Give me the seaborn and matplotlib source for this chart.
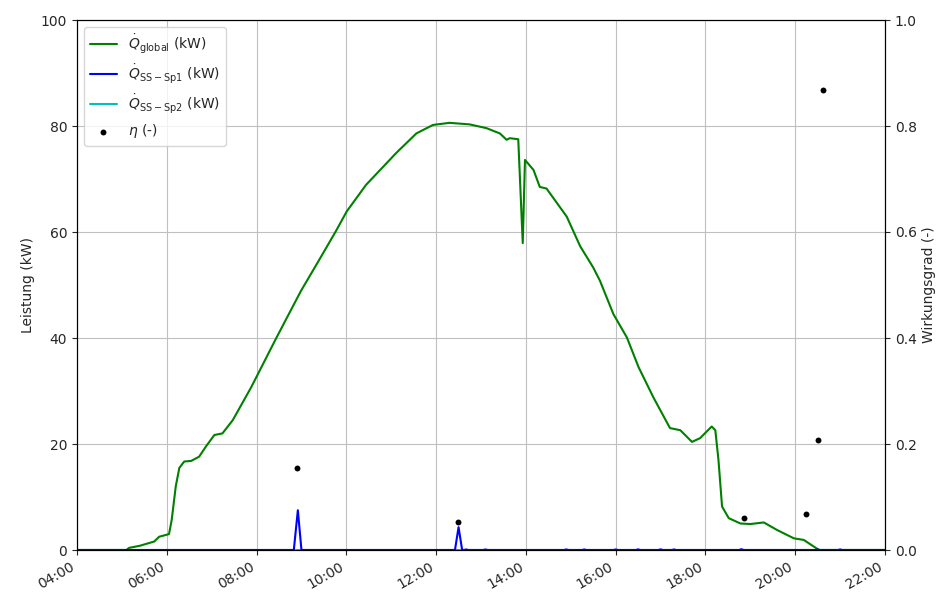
import numpy as np
import pandas as pd
import matplotlib
matplotlib.use("Agg")
import matplotlib.pyplot as plt
import matplotlib.dates as mdates
import seaborn as sns

# ---- data (hours of day, values) ----
glob_h = [4.0, 5.1, 5.16, 5.4, 5.72, 5.83, 6.05, 6.11, 6.2, 6.28, 6.39, 6.54, 6.72, 6.87,
          7.06, 7.24, 7.47, 7.88, 8.44, 8.99, 9.40, 9.77, 10.01, 10.44, 11.11, 11.56,
          11.93, 12.30, 12.75, 13.12, 13.42, 13.57, 13.64, 13.83, 13.93, 13.98, 14.17,
          14.31, 14.46, 14.91, 15.21, 15.50, 15.65, 15.95, 16.25, 16.51, 16.84, 17.21,
          17.44, 17.70, 17.88, 18.14, 18.22, 18.29, 18.37, 18.52, 18.78, 19.0, 19.30,
          19.59, 19.97, 20.19, 20.53, 22.0]
glob_kw = [0, 0, 0.4, 0.8, 1.6, 2.5, 3.0, 5.7, 12.0, 15.5, 16.7, 16.8, 17.6, 19.5,
           21.7, 22.0, 24.5, 30.7, 40.0, 48.9, 54.8, 60.2, 63.9, 68.9, 74.9, 78.6,
           80.2, 80.6, 80.3, 79.6, 78.6, 77.4, 77.7, 77.5, 57.9, 73.6, 71.7,
           68.5, 68.2, 62.9, 57.3, 53.3, 50.8, 44.5, 40.1, 34.5, 28.8, 23.0,
           22.6, 20.4, 21.1, 23.3, 22.6, 17.0, 8.2, 6.0, 5.0, 4.9, 5.2,
           3.8, 2.2, 1.9, 0, 0]

sp1_h = [4.0, 8.83, 8.92, 9.0, 12.42, 12.5, 12.58, 12.62, 12.67, 12.72, 13.05, 13.1, 13.15,
         14.85, 14.9, 14.95, 15.25, 15.3, 15.35, 15.95, 16.0, 16.05, 16.45, 16.5, 16.55,
         16.95, 17.0, 17.05, 17.25, 17.3, 17.35, 18.75, 18.8, 18.85, 20.45, 20.5, 20.55,
         20.95, 21.0, 21.05, 22.0]
sp1_kw = [0, 0, 7.5, 0, 0, 4.3, 0, 0, 0.1, 0, 0, 0.1, 0,
          0, 0.1, 0, 0, 0.1, 0, 0, 0.1, 0, 0, 0.12, 0,
          0, 0.12, 0, 0, 0.1, 0, 0, 0.15, 0, 0, 0.1, 0,
          0, 0.1, 0, 0]

sp2_h = [4.0, 22.0]
sp2_kw = [0, 0]

eta_h = [8.91, 12.48, 18.85, 20.25, 20.51, 20.61]
eta_val = [0.155, 0.053, 0.061, 0.068, 0.208, 0.868]

xtick_h = [4, 6, 8, 10, 12, 14, 16, 18, 20, 22]

day = pd.Timestamp("2021-06-21")
def to_t(hours):
    return day + pd.to_timedelta(np.array(hours, dtype=float), unit="h")

df_g = pd.DataFrame({"t": to_t(glob_h), "v": glob_kw})
df_1 = pd.DataFrame({"t": to_t(sp1_h), "v": sp1_kw})
df_2 = pd.DataFrame({"t": to_t(sp2_h), "v": sp2_kw})
df_e = pd.DataFrame({"t": to_t(eta_h), "v": eta_val})

sns.set_style("ticks", {"axes.grid": True, "grid.color": "#c0c0c0"})
plt.rcParams["font.family"] = ["DejaVu Sans"]
plt.rcParams["grid.linewidth"] = 0.8

fig = plt.figure(figsize=(9.41, 5.99), dpi=100)
ax = fig.add_axes([77 / 941, 1 - 550 / 599, (885 - 77) / 941, (550 - 20) / 599])
ax2 = ax.twinx()

sns.lineplot(data=df_g, x="t", y="v", ax=ax, color="green", lw=1.5,
             label=r"$\dot{Q}_{\mathrm{global}}$ (kW)", legend=False)
sns.lineplot(data=df_1, x="t", y="v", ax=ax, color="blue", lw=1.5, zorder=2.2,
             label=r"$\dot{Q}_{\mathrm{SS-Sp1}}$ (kW)", legend=False)
sns.lineplot(data=df_2, x="t", y="v", ax=ax, color="c", lw=1.5, zorder=1.9,
             label=r"$\dot{Q}_{\mathrm{SS-Sp2}}$ (kW)", legend=False)
sns.scatterplot(data=df_e, x="t", y="v", ax=ax2, color="black", s=18, linewidth=0,
                label=r"$\eta$ (-)", legend=False)

ax.set_xlim(to_t([4])[0], to_t([22])[0])
ax.set_ylim(0, 100)
ax2.set_ylim(0, 1.0)
ax.set_xticks(to_t(xtick_h))
ax.xaxis.set_major_formatter(mdates.DateFormatter("%H:%M"))
plt.setp(ax.get_xticklabels(), rotation=30, ha="right")
ax.set_xlabel("")
ax.set_ylabel("Leistung (kW)")
ax2.set_ylabel("Wirkungsgrad (-)")
ax2.grid(False)
for a in (ax, ax2):
    for s in a.spines.values():
        s.set_visible(True)
        s.set_color("black")
        s.set_linewidth(0.8)
    a.tick_params(direction="out", length=3.5, width=0.8)

h1, l1 = ax.get_legend_handles_labels()
h2, l2 = ax2.get_legend_handles_labels()
ax.legend(h1 + h2, l1 + l2, loc="upper left", frameon=True)

fig.savefig("out.png", dpi=100)
